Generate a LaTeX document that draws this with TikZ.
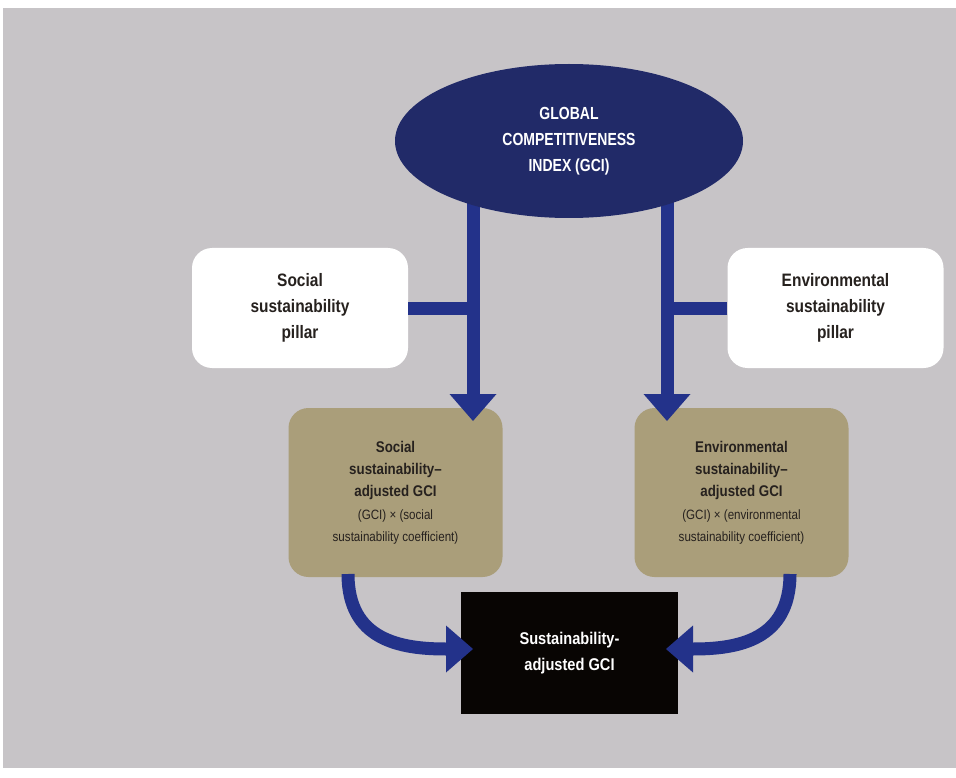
\documentclass[tikz,border=0pt]{standalone}
\usepackage{fontspec}
\setmainfont{Liberation Sans}
\newfontfamily\condA[FakeStretch=0.86]{Liberation Sans}
\newfontfamily\condB[FakeStretch=0.80]{Liberation Sans}
\usetikzlibrary{arrows.meta,shapes.geometric}
\definecolor{bggray}{RGB}{199,196,199}
\definecolor{navy}{RGB}{33,42,104}
\definecolor{arrowblue}{RGB}{35,50,138}
\definecolor{gold}{RGB}{170,158,122}
\definecolor{boxblack}{RGB}{8,5,3}
\definecolor{darktext}{RGB}{38,33,30}
\tikzset{
  arr/.style={draw=arrowblue, line width=13pt, -{Triangle[width=47pt,length=27pt,line width=0pt]}},
  conn/.style={draw=arrowblue, line width=13pt},
  pillar/.style={fill=white, rounded corners=20pt, minimum width=216pt, minimum height=120pt, inner sep=0pt, align=center, text=darktext, font=\condA\bfseries\fontsize{18}{26}\selectfont},
  goldbox/.style={fill=gold, rounded corners=20pt, minimum width=214pt, minimum height=169pt, inner sep=0pt, align=center, text=darktext, font=\condA\bfseries\fontsize{15.5}{22}\selectfont},
}
\newcommand{\smalltxt}[1]{{\condA\mdseries\fontsize{13.5}{22}\selectfont #1}}
\begin{document}
\begin{tikzpicture}[x=1pt,y=-1pt]
\useasboundingbox (0,0) rectangle (956,778);
\fill[white] (0,0) rectangle (956,778);
\fill[bggray] (3,8) rectangle (956,768);

% gold boxes
\node[goldbox] (sgci) at (395.5,492.5) {Social\\ sustainability–\\ adjusted GCI\\[1pt] \smalltxt{(GCI) × (social}\\ \smalltxt{sustainability coefficient)}};
\node[goldbox] (egci) at (741.5,492.5) {Environmental\\ sustainability–\\ adjusted GCI\\[1pt] \smalltxt{(GCI) × (environmental}\\ \smalltxt{sustainability coefficient)}};

% black box
\node[fill=boxblack, minimum width=217pt, minimum height=122pt, inner sep=0pt, align=center, text=white, font=\condA\bfseries\fontsize{17}{26}\selectfont] (sagci) at (569.5,653) {Sustainability-\\ adjusted GCI};

% coordinates for stems
\coordinate (ls) at (473,190);
\coordinate (lt) at (473,421);
\coordinate (rs) at (667,190);
\coordinate (rt) at (667,421);
\coordinate (lj) at (473,308);
\coordinate (rj) at (667,308);

% straight arrows
\draw[arr] (ls) -- (lt);
\draw[arr] (rs) -- (rt);

% curved arrows
\coordinate (lc) at (348,574);
\coordinate (ltip) at (473,649);
\coordinate (rc) at (790,574);
\coordinate (rtip) at (666,649);
\draw[arr] (lc) .. controls (348,640) and (400,649) .. (ltip);
\draw[arr] (rc) .. controls (790,640) and (738,649) .. (rtip);

% ellipse
\node[ellipse, fill=navy, minimum width=348pt, minimum height=154pt, inner sep=0pt, align=center, text=white, font=\condB\bfseries\fontsize{17.5}{26}\selectfont] (gci) at (569,141) {GLOBAL\\ COMPETITIVENESS\\ INDEX (GCI)};

% pillars
\node[pillar] (sp) at (300,308) {Social\\ sustainability\\ pillar};
\node[pillar] (ep) at (835.5,308) {Environmental\\ sustainability\\ pillar};

\draw[conn] (sp.east) -- ([xshift=6.5pt]lj);
\draw[conn] (ep.west) -- ([xshift=-6.5pt]rj);
\end{tikzpicture}
\end{document}
